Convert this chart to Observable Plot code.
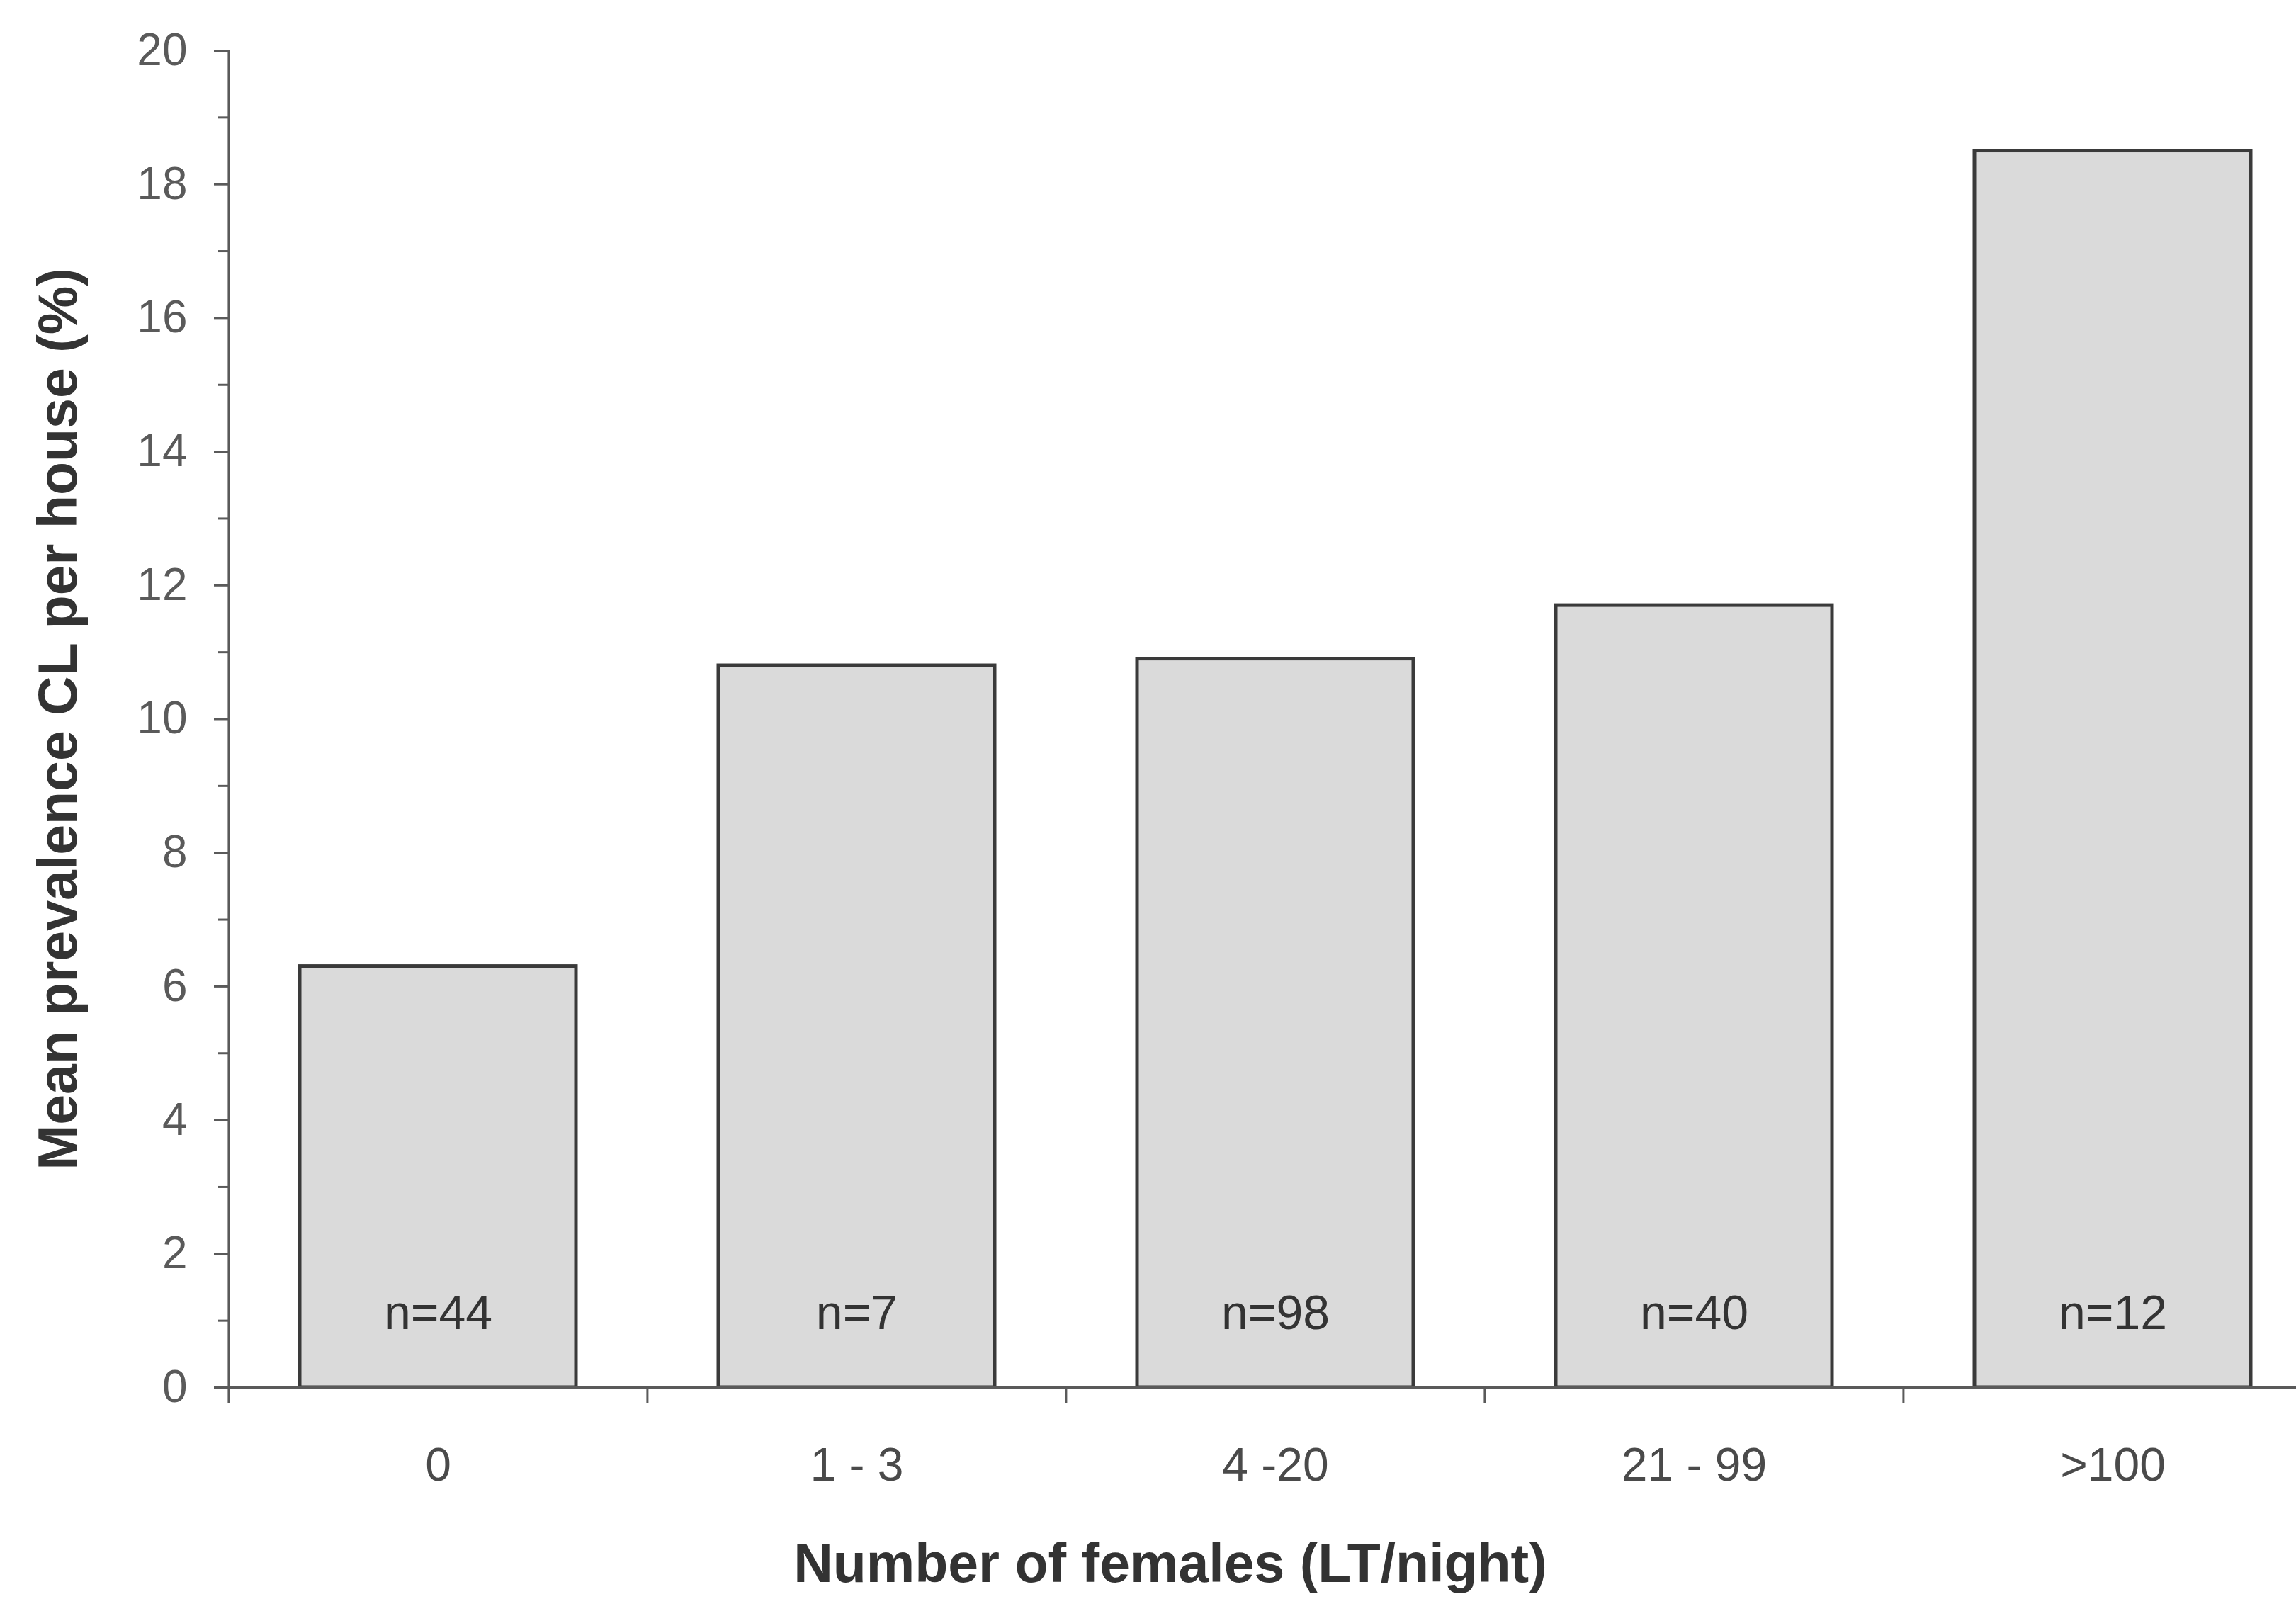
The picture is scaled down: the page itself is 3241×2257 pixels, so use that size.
<!DOCTYPE html>
<html>
<head>
<meta charset="utf-8">
<script src="https://cdn.jsdelivr.net/npm/d3@7"></script>
<script src="https://cdn.jsdelivr.net/npm/@observablehq/plot@0.6"></script>
<style>
  html, body { margin: 0; padding: 0; background: #ffffff; }
  #chart svg { display: block; }
</style>
</head>
<body>
<div id="chart"></div>
<script>
// ---- data ----
const categories = ["0", "1 - 3", "4 -20", "21 - 99", ">100"];
const prevalence = [6.3, 10.8, 10.9, 11.7, 18.5];
const sampleSizes = ["n=44", "n=7", "n=98", "n=40", "n=12"];
const yMajorTicks = [0, 2, 4, 6, 8, 10, 12, 14, 16, 18, 20];
const yMinorTicks = [1, 3, 5, 7, 9, 11, 13, 15, 17, 19];
const xTitle = "Number of females (LT/night)";
const yTitle = "Mean prevalence CL per house (%)";

const data = categories.map((c, i) => ({category: c, value: prevalence[i], n: sampleSizes[i]}));

const W = 3241, H = 2257;
const xRange = [322, 3278];
const step = (xRange[1] - xRange[0]) / categories.length;
const font = "'Liberation Sans', Arial, Helvetica, sans-serif";
const axisColor = "#5a5a5a";

const chart = Plot.plot({
  width: W,
  height: H,
  marginTop: 71,
  marginBottom: 299,
  marginLeft: 322,
  marginRight: 0,
  style: {fontFamily: font, background: "#ffffff", color: "#333"},
  x: {domain: categories, range: xRange, paddingInner: 0.34, paddingOuter: 0.17, axis: null},
  y: {domain: [0, 20], axis: null},
  marks: [
    Plot.barY(data, {x: "category", y: "value", fill: "#dadada", stroke: "#3a3a3a", strokeWidth: 5}),
    Plot.ruleY([0], {stroke: axisColor, strokeWidth: 3}),
    // y axis line
    Plot.ruleX([categories[0]], {x: d => d, dx: -step / 2, stroke: axisColor, strokeWidth: 3}),
    // category boundary ticks below x axis
    Plot.ruleX(categories, {x: d => d, y1: 0, y2: 0, insetBottom: -22, dx: -step / 2, stroke: axisColor, strokeWidth: 3}),
    Plot.axisY(yMajorTicks, {anchor: "left", tickSize: 20, tickPadding: 38, fontSize: 64, color: axisColor, strokeWidth: 3, label: null, tickFormat: d => String(d)}),
    Plot.axisY(yMinorTicks, {anchor: "left", tickSize: 14, color: axisColor, strokeWidth: 3, label: null, tickFormat: () => ""}),
    Plot.axisX({anchor: "bottom", tickSize: 0, tickPadding: 85, fontSize: 66, color: "#4a4a4a", label: null}),
    Plot.text(data, {x: "category", text: "n", frameAnchor: "bottom", lineAnchor: "middle", dy: -104, fontSize: 68, fill: "#333"}),
    Plot.text([xTitle], {text: d => d, frameAnchor: "bottom", lineAnchor: "middle", textAnchor: "middle", dy: 250, dx: -130, fontSize: 77, fontWeight: "bold", fill: "#333"}),
    Plot.text([yTitle], {text: d => d, frameAnchor: "left", lineAnchor: "middle", textAnchor: "middle", rotate: -90, dx: -239, fontSize: 77, fontWeight: "bold", fill: "#333"})
  ]
});

document.getElementById("chart").appendChild(chart);
</script>
</body>
</html>
